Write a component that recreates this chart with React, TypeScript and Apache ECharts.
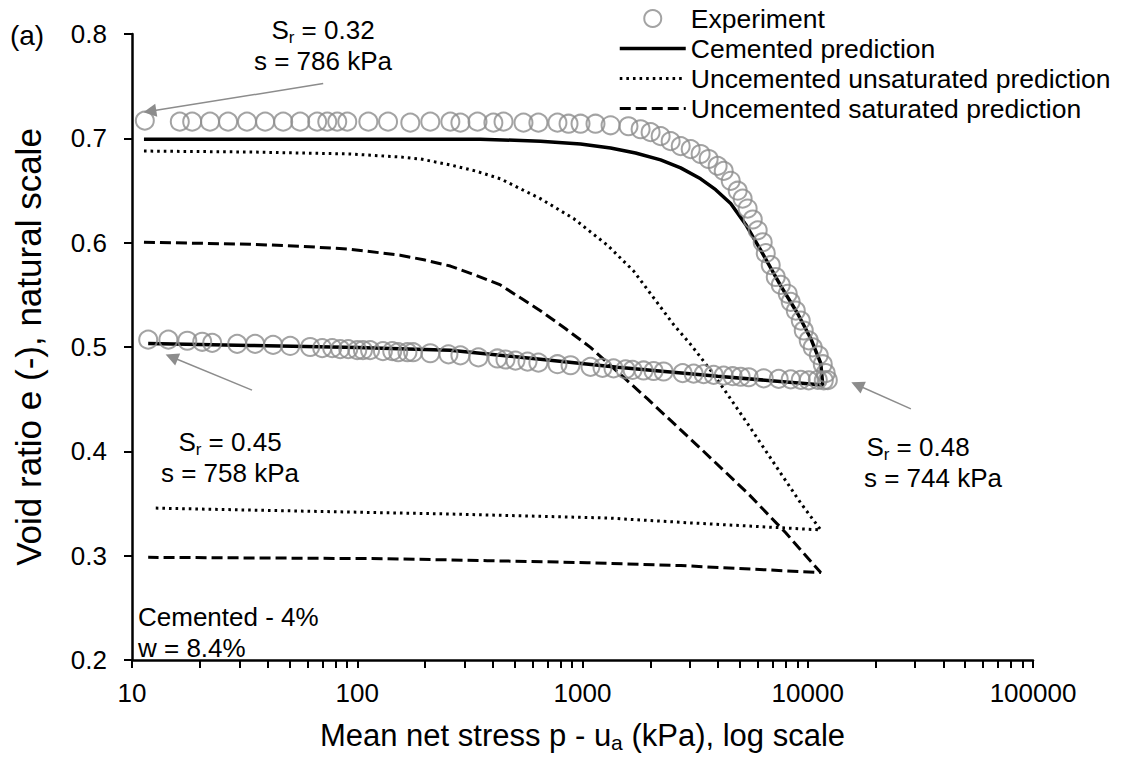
import React, { useEffect, useRef } from "react";
import * as echarts from "echarts";

// ---------- data ----------
const expLoadP = [11.4, 16.3, 18.5, 22.2, 26.7, 32.4, 39.0, 46.9, 55.8, 66.4, 73.6, 81.5, 90.3, 112, 137, 172, 211, 259, 287, 342, 402, 446, 547, 637, 774, 867, 980, 1142, 1332, 1600, 1811, 2006, 2223, 2462, 2729, 3022, 3345, 3631, 3981, 4236, 4550, 4887, 5140, 5410, 5700, 5995, 6310, 6510, 6850, 7210, 7590, 8150, 8400, 8850, 9310, 9600, 10100, 10520, 11190, 11660, 12020, 12280];
const expLoadE = [0.717, 0.716, 0.716, 0.716, 0.716, 0.716, 0.716, 0.716, 0.716, 0.716, 0.716, 0.716, 0.716, 0.716, 0.716, 0.715, 0.716, 0.716, 0.715, 0.716, 0.715, 0.716, 0.715, 0.715, 0.715, 0.714, 0.714, 0.714, 0.7125, 0.7116, 0.7087, 0.7059, 0.7021, 0.6973, 0.6926, 0.6897, 0.685, 0.6802, 0.6736, 0.6688, 0.6593, 0.6498, 0.6422, 0.6327, 0.6222, 0.6118, 0.6004, 0.5899, 0.5785, 0.5671, 0.5595, 0.551, 0.5433, 0.5348, 0.5253, 0.5158, 0.5063, 0.4996, 0.492, 0.4835, 0.4749, 0.4683];
const expUnloadP = [11.8, 14.5, 17.6, 20.5, 22.7, 29.3, 35.2, 42.3, 50.4, 61.8, 69.9, 77.4, 84.0, 91.2, 100, 106, 114, 130, 143, 152, 167, 177, 211, 254, 287, 345, 419, 455, 504, 570, 637, 774, 885, 1085, 1227, 1373, 1553, 1668, 1867, 2068, 2291, 2783, 3114, 3450, 3821, 4233, 4642, 5036, 5467, 6374, 7430, 8404, 9310, 10100, 11080, 11780];
const expUnloadE = [0.507, 0.507, 0.506, 0.505, 0.504, 0.503, 0.503, 0.502, 0.501, 0.5, 0.499, 0.499, 0.498, 0.498, 0.497, 0.497, 0.497, 0.496, 0.496, 0.495, 0.495, 0.495, 0.494, 0.493, 0.492, 0.49, 0.489, 0.488, 0.487, 0.486, 0.485, 0.4835, 0.4825, 0.481, 0.48, 0.4795, 0.4785, 0.478, 0.4775, 0.477, 0.4765, 0.475, 0.4745, 0.474, 0.4733, 0.4725, 0.472, 0.4715, 0.471, 0.47, 0.4695, 0.469, 0.4685, 0.468, 0.4685, 0.468];

const cemLoadP = [11.3, 352, 651, 980, 1332, 1720, 2222, 2727, 3345, 3900, 4549, 5302, 6182, 7590, 9030, 10310, 11420];
const cemLoadE = [0.6992, 0.6992, 0.6973, 0.6945, 0.6907, 0.6859, 0.6793, 0.6717, 0.6612, 0.6508, 0.6375, 0.6175, 0.5928, 0.5586, 0.5319, 0.5082, 0.4844];
const cemUnloadP = [11660, 3981, 1432, 650, 259, 100, 33.4, 11.8];
const cemUnloadE = [0.4635, 0.472, 0.4806, 0.4882, 0.4968, 0.4996, 0.5015, 0.5034];

const unsatLoadP = [11.3, 33.5, 93.1, 155, 191, 259, 334, 432, 530, 650, 912, 1291, 1687, 2070, 2537, 3020, 3820, 5410, 7590, 9310, 11420];
const unsatLoadE = [0.6878, 0.6869, 0.685, 0.6821, 0.6802, 0.6745, 0.6688, 0.6612, 0.6517, 0.6422, 0.6232, 0.5975, 0.5728, 0.5471, 0.5215, 0.5025, 0.474, 0.4264, 0.3789, 0.3504, 0.3247];
const unsatUnloadP = [11420, 3020, 1291, 259, 93.1, 33.5, 12.6];
const unsatUnloadE = [0.3247, 0.3314, 0.3361, 0.3399, 0.3418, 0.3437, 0.3456];

const satLoadP = [11.3, 33.5, 55.8, 93.1, 155, 200, 259, 334, 432, 530, 650, 839, 1085, 1945, 3345, 5410, 7984, 11420];
const satLoadE = [0.6004, 0.5985, 0.5966, 0.5937, 0.588, 0.5833, 0.5776, 0.569, 0.5595, 0.5471, 0.5348, 0.5177, 0.4996, 0.4502, 0.4027, 0.3599, 0.3219, 0.2838];
const satUnloadP = [11420, 2729, 1052, 378, 136, 11.8];
const satUnloadE = [0.2838, 0.2905, 0.2933, 0.2952, 0.2971, 0.2984];

const seriesNames = ["Experiment", "Cemented prediction", "Uncemented unsaturated prediction", "Uncemented saturated prediction"];

const xTickValues = [10, 20, 30, 40, 50, 60, 70, 80, 90, 100, 200, 300, 400, 500, 600, 700, 800, 900, 1000, 2000, 3000, 4000, 5000, 6000, 7000, 8000, 9000, 10000, 20000, 30000, 40000, 50000, 60000, 70000, 80000, 90000, 100000];
const xLabelValues = [10, 100, 1000, 10000, 100000];

// arrows: [fromP, fromE, toP, toE]
const arrows = [
  [70.6, 0.7525, 12.0, 0.7259],
  [34.1, 0.4587, 15.0, 0.4904],
  [28700, 0.4407, 16590, 0.4636],
];

const FONT = '"Liberation Sans", Arial, Helvetica, sans-serif';
const GRAY = "#8c8c8c";

const zip = (p: number[], e: number[]) => p.map((v, i) => [v, e[i]]);

const subRich = {
  sub: { fontSize: 17, fontFamily: FONT, color: "#000", verticalAlign: "bottom", lineHeight: 17 },
};

function txt(text: string, x: number, y: number, align = "center", size = 26) {
  return {
    type: "text",
    x,
    y,
    silent: true,
    style: {
      text,
      fill: "#000",
      fontSize: size,
      fontFamily: FONT,
      lineHeight: 32,
      align,
      verticalAlign: "middle",
      rich: subRich,
    },
  };
}

const lineStyles = [
  null,
  { color: "#000", width: 3.5, type: "solid" },
  { color: "#000", width: 3, type: [2.6, 4] },
  { color: "#000", width: 3, type: [11, 5] },
];

export default function App() {
  const ref = useRef<HTMLDivElement>(null);
  useEffect(() => {
    const chart = echarts.init(ref.current!, null, { renderer: "svg" });
    const option: any = {
      animation: false,
      backgroundColor: "#fff",
      grid: { left: 132, right: 88, top: 34, bottom: 93 },
      legend: {
        orient: "vertical",
        left: 618,
        top: 5,
        padding: 0,
        itemWidth: 66,
        itemHeight: 17,
        itemGap: 3,
        selectedMode: false,
        data: seriesNames.map((n, i) =>
          i === 0 ? { name: n } : { name: n, itemStyle: { opacity: 0 }, lineStyle: { ...lineStyles[i] } }
        ),
        textStyle: { fontSize: 26.5, fontFamily: FONT, color: "#000", lineHeight: 26 },
      },
      xAxis: {
        type: "log",
        logBase: 10,
        min: 10,
        max: 100000,
        name: "Mean net stress p - u{sub|a} (kPa), log scale",
        nameLocation: "middle",
        nameGap: 57,
        nameTextStyle: {
          fontSize: 31,
          fontFamily: FONT,
          color: "#000",
          lineHeight: 36,
          rich: { sub: { fontSize: 21, fontFamily: FONT, color: "#000", verticalAlign: "bottom", lineHeight: 20 } },
        },
        axisLine: { onZero: false, lineStyle: { color: "#000", width: 2.5 } },
        axisTick: { customValues: xTickValues, length: 8, lineStyle: { color: "#000", width: 2 } },
        axisLabel: {
          customValues: xLabelValues,
          formatter: (v: number) => String(v),
          fontSize: 26,
          fontFamily: FONT,
          color: "#000",
          margin: 20,
        },
        splitLine: { show: false },
        minorTick: { show: false },
        minorSplitLine: { show: false },
      },
      yAxis: {
        type: "value",
        min: 0.2,
        max: 0.8,
        interval: 0.1,
        name: "Void ratio e (-), natural scale",
        nameLocation: "middle",
        nameGap: 86,
        nameTextStyle: { fontSize: 35, fontFamily: FONT, color: "#000" },
        axisLine: { show: true, onZero: false, lineStyle: { color: "#000", width: 2.5 } },
        axisTick: { show: true, length: 8, lineStyle: { color: "#000", width: 2 } },
        axisLabel: {
          formatter: (v: number) => v.toFixed(1),
          fontSize: 26,
          fontFamily: FONT,
          color: "#000",
          margin: 25,
        },
        splitLine: { show: false },
      },
      series: [
        {
          name: seriesNames[0],
          type: "scatter",
          z: 5,
          symbol: "circle",
          symbolSize: 18,
          itemStyle: { color: "rgba(255,255,255,0)", borderColor: GRAY, borderWidth: 2 },
          data: [...zip(expLoadP, expLoadE), ...zip(expUnloadP, expUnloadE)],
          markLine: {
            silent: true,
            animation: false,
            symbol: ["none", "triangle"],
            symbolSize: 13,
            label: { show: false },
            lineStyle: { color: GRAY, width: 1.5, type: "solid" },
            itemStyle: { color: GRAY },
            data: arrows.map((a) => [{ coord: [a[0], a[1]] }, { coord: [a[2], a[3]] }]),
          },
        },
        {
          name: seriesNames[1],
          type: "line",
          z: 4,
          symbol: "none",
          lineStyle: lineStyles[1],
          itemStyle: { color: "#000" },
          data: [...zip(cemLoadP, cemLoadE), ...zip(cemUnloadP, cemUnloadE)],
        },
        {
          name: seriesNames[2],
          type: "line",
          z: 3,
          symbol: "none",
          lineStyle: lineStyles[2],
          itemStyle: { color: "#000" },
          data: [...zip(unsatLoadP, unsatLoadE), ...zip(unsatUnloadP, unsatUnloadE)],
        },
        {
          name: seriesNames[3],
          type: "line",
          z: 3,
          symbol: "none",
          lineStyle: lineStyles[3],
          itemStyle: { color: "#000" },
          data: [...zip(satLoadP, satLoadE), ...zip(satUnloadP, satUnloadE)],
        },
      ],
      graphic: [
        txt("(a)", 27, 35, "center", 28),
        txt("S{sub|r} = 0.32", 323, 30),
        txt("s = 786 kPa", 323, 61),
        txt("S{sub|r} = 0.45", 230, 442),
        txt("s = 758 kPa", 230, 473),
        txt("S{sub|r} = 0.48", 918, 447),
        txt("s = 744 kPa", 933, 478),
        txt("Cemented - 4%", 138, 617, "left"),
        txt("w = 8.4%", 138, 648, "left"),
      ],
    };
    chart.setOption(option);
    return () => chart.dispose();
  }, []);
  return (
    <div
      ref={ref}
      style={{ position: "fixed", left: 0, top: 0, width: 1121, height: 758, background: "#fff" }}
    />
  );
}
